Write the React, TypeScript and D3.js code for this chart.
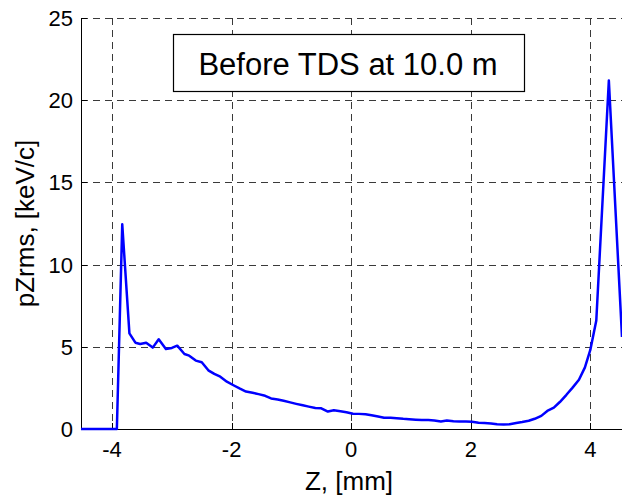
import React, { useRef, useEffect } from 'react';
import * as d3 from 'd3';

// longitudinal position along the bunch, mm
const zPos = [
  -4.52, -3.92, -3.83, -3.71, -3.61, -3.53, -3.43, -3.32, -3.22, -3.1, -3.0,
  -2.91, -2.79, -2.71, -2.6, -2.5, -2.39, -2.29, -2.19, -2.08, -1.97, -1.86,
  -1.76, -1.65, -1.55, -1.44, -1.34, -1.23, -1.13, -1.02, -0.92, -0.81, -0.71,
  -0.6, -0.5, -0.39, -0.29, -0.18, -0.08, 0.03, 0.13, 0.24, 0.34, 0.45, 0.55,
  0.66, 0.76, 0.87, 0.97, 1.08, 1.18, 1.29, 1.39, 1.5, 1.6, 1.71, 1.81, 1.92,
  2.02, 2.13, 2.23, 2.34, 2.44, 2.55, 2.65, 2.76, 2.86, 2.97, 3.07, 3.18, 3.28,
  3.39, 3.49, 3.6, 3.7, 3.81, 3.91, 4.0, 4.1, 4.31, 4.53,
];

// rms longitudinal momentum spread, keV/c
const pzRms = [
  0, 0, 12.45, 5.82, 5.25, 5.17, 5.25, 4.95, 5.46, 4.87, 4.93,
  5.07, 4.56, 4.46, 4.16, 4.06, 3.57, 3.35, 3.18, 2.88, 2.66, 2.45,
  2.28, 2.2, 2.12, 2.02, 1.86, 1.8, 1.72, 1.62, 1.53, 1.44, 1.36,
  1.28, 1.26, 1.06, 1.14, 1.08, 1.02, 0.93, 0.92, 0.9, 0.84, 0.76, 0.68,
  0.68, 0.66, 0.62, 0.6, 0.57, 0.55, 0.54, 0.52, 0.46, 0.52, 0.47, 0.46, 0.45,
  0.44, 0.38, 0.36, 0.34, 0.29, 0.28, 0.29, 0.36, 0.42, 0.5, 0.62, 0.8, 1.1,
  1.3, 1.64, 2.08, 2.5, 3.0, 3.75, 4.81, 6.6, 21.2, 5.6,
];

const xTicks = [-4, -2, 0, 2, 4];
const yTicks = [0, 5, 10, 15, 20, 25];

const xLabel = 'Z, [mm]';
const yLabel = 'pZrms, [keV/c]';
const note = 'Before TDS at 10.0 m';

export default function App() {
  const svgRef = useRef<SVGSVGElement | null>(null);

  useEffect(() => {
    const width = 622;
    const height = 495;
    const left = 81, right = 622, top = 18, bottom = 429;
    const font = 'Arial, "Liberation Sans", Helvetica, sans-serif';

    const svg = d3.select(svgRef.current)
      .attr('width', width)
      .attr('height', height)
      .style('font-family', font);
    svg.selectAll('*').remove();

    const x = d3.scaleLinear().domain([-4.52, 4.53]).range([left, right]);
    const y = d3.scaleLinear().domain([0, 25]).range([bottom, top]);

    svg.append('rect').attr('width', width).attr('height', height).attr('fill', '#fff');

    // dashed grid
    const grid = svg.append('g')
      .attr('stroke', '#3a3a3a')
      .attr('stroke-width', 1)
      .attr('stroke-dasharray', '7,5');
    grid.selectAll('line.vx')
      .data(xTicks)
      .enter()
      .append('line')
      .attr('x1', d => Math.round(x(d)) + 0.5)
      .attr('x2', d => Math.round(x(d)) + 0.5)
      .attr('y1', top)
      .attr('y2', bottom);
    grid.selectAll('line.hy')
      .data(yTicks.filter(d => d > 0))
      .enter()
      .append('line')
      .attr('x1', left)
      .attr('x2', right)
      .attr('y1', d => Math.round(y(d)) + 0.5)
      .attr('y2', d => Math.round(y(d)) + 0.5);

    // clip for the curve
    svg.append('clipPath').attr('id', 'plotclip')
      .append('rect')
      .attr('x', left).attr('y', top)
      .attr('width', right - left).attr('height', bottom - top + 2);

    const pts = zPos.map((z, i) => [z, pzRms[i]] as [number, number]);
    const line = d3.line<[number, number]>()
      .x(d => x(d[0]))
      .y(d => y(d[1]));

    // axes (left + bottom, inward ticks)
    const axes = svg.append('g').attr('stroke', '#000').attr('stroke-width', 1);
    axes.append('line')
      .attr('x1', left + 0.5).attr('x2', left + 0.5)
      .attr('y1', top).attr('y2', bottom + 0.5);
    axes.append('line')
      .attr('x1', left).attr('x2', right)
      .attr('y1', bottom + 0.5).attr('y2', bottom + 0.5);
    axes.selectAll('line.tx')
      .data(xTicks)
      .enter()
      .append('line')
      .attr('x1', d => Math.round(x(d)) + 0.5)
      .attr('x2', d => Math.round(x(d)) + 0.5)
      .attr('y1', bottom)
      .attr('y2', bottom - 6);
    axes.selectAll('line.ty')
      .data(yTicks)
      .enter()
      .append('line')
      .attr('x1', left)
      .attr('x2', left + 6)
      .attr('y1', d => Math.round(y(d)) + 0.5)
      .attr('y2', d => Math.round(y(d)) + 0.5);

    svg.append('path')
      .datum(pts)
      .attr('clip-path', 'url(#plotclip)')
      .attr('fill', 'none')
      .attr('stroke', '#0000ff')
      .attr('stroke-width', 2.5)
      .attr('stroke-linejoin', 'round')
      .attr('d', line);

    // tick labels
    svg.selectAll('text.xt')
      .data(xTicks)
      .enter()
      .append('text')
      .attr('x', d => x(d))
      .attr('y', 457)
      .attr('text-anchor', 'middle')
      .attr('font-size', 22)
      .text(d => String(d));
    svg.selectAll('text.yt')
      .data(yTicks)
      .enter()
      .append('text')
      .attr('x', 73)
      .attr('y', d => y(d))
      .attr('dy', '0.36em')
      .attr('text-anchor', 'end')
      .attr('font-size', 22)
      .text(d => String(d));

    // axis titles
    svg.append('text')
      .attr('x', 349)
      .attr('y', 490)
      .attr('text-anchor', 'middle')
      .attr('font-size', 26)
      .text(xLabel);
    svg.append('text')
      .attr('transform', `translate(34, ${(top + bottom) / 2}) rotate(-90)`)
      .attr('text-anchor', 'middle')
      .attr('font-size', 26)
      .text(yLabel);

    // annotation box
    svg.append('rect')
      .attr('x', 173.5).attr('y', 34.5)
      .attr('width', 351).attr('height', 57)
      .attr('fill', '#fff')
      .attr('stroke', '#000')
      .attr('stroke-width', 1.2);
    svg.append('text')
      .attr('x', 348)
      .attr('y', 75)
      .attr('text-anchor', 'middle')
      .attr('font-size', 31)
      .text(note);
  }, []);

  return (
    <div>
      <svg ref={svgRef} style={{ position: 'absolute', left: 0, top: 0 }}></svg>
    </div>
  );
}
